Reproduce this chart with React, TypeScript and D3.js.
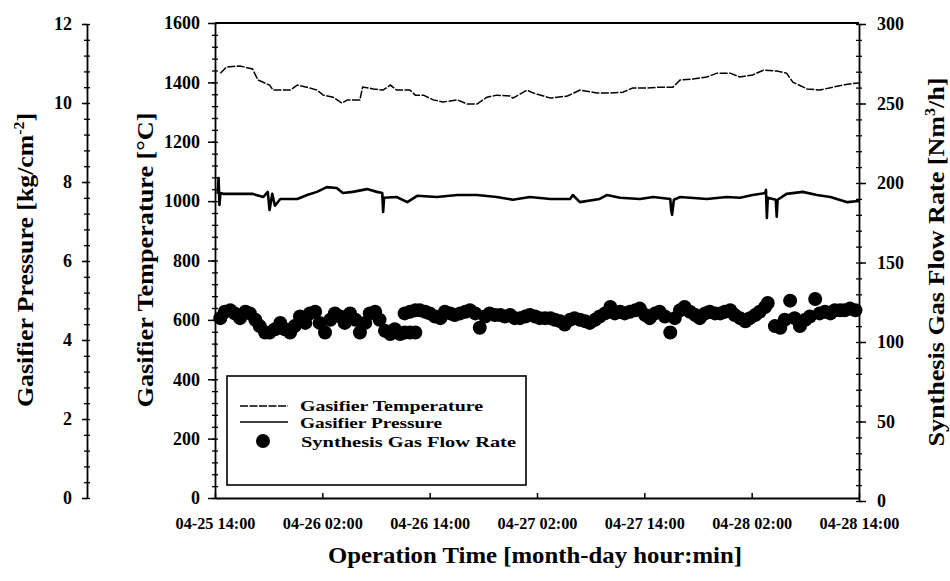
import React, { useEffect, useRef } from "react";
import * as d3 from "d3";

// x axis tick labels (month-day hour:min), 12 h apart
const tickLabels = ["04-25 14:00", "04-26 02:00", "04-26 14:00", "04-27 02:00", "04-27 14:00", "04-28 02:00", "04-28 14:00"];

// gasifier temperature, hours after 04-25 14:00 / deg C
const tempHours = [0.6, 1.3, 2.8, 4.2, 4.8, 6.1, 6.5, 8.4, 9.2, 10.6, 11.4, 12.1, 13.2, 14.2, 14.8, 16.2, 16.5, 17.7, 18.8, 19.6, 20.3, 21.8, 22.4, 23.3, 24.4, 25.5, 27.1, 28.2, 29.3, 30.4, 31.5, 33.0, 33.3, 34.9, 35.6, 37.5, 39.4, 40.8, 42.7, 44.2, 45.6, 46.7, 48.3, 49.8, 51.2, 52.0, 53.4, 55.0, 56.1, 57.6, 58.7, 60.1, 61.3, 62.8, 63.9, 64.6, 66.2, 67.6, 69.1, 70.7, 72.0];
const tempValues = [1431, 1452, 1455, 1445, 1408, 1391, 1374, 1374, 1391, 1381, 1374, 1357, 1350, 1330, 1341, 1341, 1384, 1378, 1374, 1391, 1374, 1374, 1357, 1357, 1341, 1334, 1341, 1327, 1327, 1350, 1357, 1354, 1347, 1374, 1364, 1347, 1354, 1374, 1364, 1364, 1367, 1381, 1381, 1384, 1384, 1408, 1411, 1418, 1431, 1431, 1418, 1425, 1441, 1438, 1431, 1401, 1378, 1374, 1384, 1394, 1398];

// gasifier pressure, hours / kg/cm2
const pressHours = [0.3, 0.4, 0.5, 0.6, 0.9, 4.2, 5.4, 5.9, 6.1, 6.4, 6.7, 7.3, 9.2, 10.3, 11.4, 12.5, 13.6, 14.3, 15.4, 17.0, 18.1, 18.7, 18.8, 18.9, 20.3, 21.5, 22.6, 24.8, 27.1, 29.3, 31.5, 33.3, 35.2, 37.5, 39.7, 40.0, 40.8, 43.0, 43.8, 45.3, 47.5, 49.0, 50.9, 51.0, 51.1, 51.3, 52.0, 55.0, 57.2, 58.7, 60.1, 61.5, 61.6, 61.7, 61.8, 62.7, 62.8, 62.9, 63.9, 65.7, 67.3, 68.8, 70.7, 72.0];
const pressValues = [7.7, 8.1, 7.42, 7.72, 7.7, 7.7, 7.62, 7.75, 7.29, 7.7, 7.4, 7.57, 7.57, 7.67, 7.75, 7.87, 7.85, 7.72, 7.75, 7.82, 7.75, 7.72, 7.24, 7.6, 7.62, 7.49, 7.65, 7.62, 7.67, 7.67, 7.62, 7.55, 7.62, 7.57, 7.57, 7.67, 7.49, 7.57, 7.67, 7.6, 7.57, 7.62, 7.57, 7.3, 7.17, 7.55, 7.62, 7.57, 7.62, 7.6, 7.67, 7.72, 7.8, 7.09, 7.6, 7.55, 7.12, 7.55, 7.7, 7.75, 7.67, 7.62, 7.49, 7.52];

// synthesis gas flow rate, hours / Nm3/h
const flowHours = [0.6, 1.1, 1.7, 2.2, 2.8, 3.4, 3.9, 4.5, 5.0, 5.6, 6.1, 6.7, 7.3, 7.8, 8.4, 8.9, 9.5, 10.1, 10.6, 11.2, 11.7, 12.3, 12.9, 13.4, 14.0, 14.5, 15.1, 15.7, 16.2, 16.8, 17.3, 17.9, 18.4, 19.0, 19.6, 20.1, 20.7, 21.2, 21.8, 22.4, 21.2, 21.8, 22.4, 22.9, 23.5, 24.0, 24.6, 25.2, 25.7, 26.3, 26.8, 27.4, 28.0, 28.5, 29.1, 29.6, 30.2, 30.7, 31.3, 31.9, 32.4, 33.0, 33.5, 34.1, 34.7, 35.2, 35.8, 36.3, 36.9, 37.5, 38.0, 38.6, 39.1, 39.7, 40.2, 40.8, 41.4, 41.9, 42.5, 43.0, 43.6, 44.2, 44.7, 45.3, 45.8, 46.4, 47.0, 47.5, 48.1, 48.6, 49.2, 49.7, 50.3, 50.9, 51.4, 52.0, 52.5, 53.1, 53.7, 54.2, 54.8, 55.3, 55.9, 56.5, 57.0, 57.6, 58.1, 58.7, 59.3, 59.8, 60.4, 60.9, 61.5, 61.8, 62.6, 63.2, 63.7, 64.3, 64.8, 65.4, 66.0, 66.5, 67.1, 67.6, 68.2, 68.8, 69.3, 69.9, 70.4, 71.0, 71.6];
const flowValues = [115, 119, 120, 118, 115, 119, 118, 114, 110, 106, 106, 108, 112, 108, 106, 110, 116, 112, 118, 119, 112, 106, 114, 118, 116, 112, 118, 114, 106, 112, 118, 119, 114, 107, 105, 108, 105, 106, 106, 106, 118, 119, 120, 120, 119, 118, 116, 115, 119, 118, 117, 118, 119, 120, 118, 109, 116, 118, 117, 117, 116, 117, 115, 115, 116, 117, 116, 115, 115, 115, 114, 113, 111, 114, 115, 114, 113, 112, 114, 116, 118, 122, 118, 119, 118, 119, 120, 121, 117, 115, 118, 119, 116, 106, 115, 120, 122, 119, 117, 115, 118, 119, 118, 118, 119, 120, 117, 115, 113, 115, 117, 119, 122, 124.5, 110, 109, 114, 126, 115, 110, 114, 116, 127, 118, 119, 118, 120, 120, 120, 121, 120];

const tempTicks = [0, 200, 400, 600, 800, 1000, 1200, 1400, 1600];
const pressTicks = [0, 2, 4, 6, 8, 10, 12];
const flowTicks = [0, 50, 100, 150, 200, 250, 300];

const FONT = "'Liberation Serif', 'Times New Roman', serif";

function draw(ref: SVGSVGElement) {
	const width = 950;
	const height = 581;
	const svg = d3.select(ref).attr("width", width).attr("height", height);
	svg.selectAll("*").remove();
	svg.append("rect").attr("width", width).attr("height", height).attr("fill", "white");

	const parse = d3.timeParse("%m-%d %H:%M");
	const tickDates = tickLabels.map((s) => parse(s) as Date);
	const start = tickDates[0];
	const at = (h: number) => d3.timeMinute.offset(start, Math.round(h * 60));

	const x = d3.scaleTime().domain([start, tickDates[tickDates.length - 1]]).range([215, 859]);
	const yT = d3.scaleLinear().domain([0, 1600]).range([498, 23]);
	const yP = d3.scaleLinear().domain([0, 12]).range([498, 24]);
	const yF = d3.scaleLinear().domain([0, 300]).range([501, 24]);
	const fmt = d3.format("d");

	const styleAxis = (g: d3.Selection<SVGGElement, unknown, null, undefined>, size: number) => {
		g.attr("font-family", FONT).attr("font-size", size).attr("font-weight", "bold");
		g.selectAll("path").attr("stroke-width", 1.8);
		g.selectAll("line").attr("stroke-width", 1.5);
	};

	// top frame
	svg.append("line").attr("x1", 215).attr("x2", 859).attr("y1", 23).attr("y2", 23).attr("stroke", "black").attr("stroke-width", 1.8);

	// temperature axis (middle)
	const gT = svg.append("g").attr("transform", "translate(215,0)")
		.call(d3.axisLeft(yT).tickValues(tempTicks).tickFormat((d) => fmt(d as number)).tickSize(7).tickSizeOuter(0).tickPadding(8));
	styleAxis(gT, 18);
	svg.append("g").attr("transform", "translate(218,0)")
		.call(d3.axisLeft(yT).tickValues(d3.range(0, 1601, 40)).tickSize(6).tickFormat(() => ""))
		.call((g) => g.select(".domain").remove())
		.selectAll("line").attr("stroke-width", 1.3);

	// pressure axis (far left)
	const gP = svg.append("g").attr("transform", "translate(87,0)")
		.call(d3.axisLeft(yP).tickValues(pressTicks).tickFormat((d) => fmt(d as number)).tickSize(5).tickSizeOuter(0).tickPadding(10));
	styleAxis(gP, 18);
	svg.append("g").attr("transform", "translate(90,0)")
		.call(d3.axisLeft(yP).tickValues(d3.range(0, 12.01, 0.4)).tickSize(6).tickFormat(() => ""))
		.call((g) => g.select(".domain").remove())
		.selectAll("line").attr("stroke-width", 1.3);

	// flow axis (right)
	const gF = svg.append("g").attr("transform", "translate(859,0)")
		.call(d3.axisRight(yF).tickValues(flowTicks).tickFormat((d) => fmt(d as number)).tickSize(7).tickSizeOuter(0).tickPadding(11));
	styleAxis(gF, 18);
	svg.append("g").attr("transform", "translate(856,0)")
		.call(d3.axisRight(yF).tickValues(d3.range(0, 301, 10)).tickSize(6).tickFormat(() => ""))
		.call((g) => g.select(".domain").remove())
		.selectAll("line").attr("stroke-width", 1.3);

	// time axis
	const gX = svg.append("g").attr("transform", "translate(0,498)")
		.call(d3.axisBottom(x).tickValues(tickDates).tickSize(-5).tickSizeOuter(0).tickPadding(20)
			.tickFormat((d) => d3.timeFormat("%m-%d %H:%M")(d as Date)));
	styleAxis(gX, 16);
	gX.selectAll("text").attr("textLength", 80).attr("lengthAdjust", "spacingAndGlyphs");

	// temperature line
	const tLine = d3.line<number>().x((_, i) => x(at(tempHours[i]))).y((d) => yT(d));
	svg.append("path").attr("d", tLine(tempValues)).attr("fill", "none").attr("stroke", "black")
		.attr("stroke-width", 1.5).attr("stroke-dasharray", "8 1.5");

	// pressure line
	const pLine = d3.line<number>().x((_, i) => x(at(pressHours[i]))).y((d) => yP(d));
	svg.append("path").attr("d", pLine(pressValues)).attr("fill", "none").attr("stroke", "black")
		.attr("stroke-width", 2.6).attr("stroke-linejoin", "round");

	// flow rate dots
	svg.append("g").selectAll("circle").data(flowValues).enter().append("circle")
		.attr("cx", (_, i) => x(at(flowHours[i])))
		.attr("cy", (d) => yF(d))
		.attr("r", 7)
		.attr("fill", "black");

	// legend
	const lg = svg.append("g").attr("font-family", FONT).attr("font-size", 15).attr("font-weight", "bold");
	lg.append("rect").attr("x", 227).attr("y", 376).attr("width", 299).attr("height", 109)
		.attr("fill", "white").attr("stroke", "black").attr("stroke-width", 1.6);
	lg.append("line").attr("x1", 240).attr("x2", 288).attr("y1", 406).attr("y2", 406)
		.attr("stroke", "black").attr("stroke-width", 1.3).attr("stroke-dasharray", "8 1.5");
	lg.append("line").attr("x1", 240).attr("x2", 288).attr("y1", 422).attr("y2", 422)
		.attr("stroke", "black").attr("stroke-width", 1.3);
	lg.append("circle").attr("cx", 263).attr("cy", 441).attr("r", 7).attr("fill", "black");
	lg.append("text").attr("x", 300).attr("y", 411).attr("textLength", 183).attr("lengthAdjust", "spacingAndGlyphs").text("Gasifier Temperature");
	lg.append("text").attr("x", 300).attr("y", 428).attr("textLength", 142).attr("lengthAdjust", "spacingAndGlyphs").text("Gasifier Pressure");
	lg.append("text").attr("x", 301).attr("y", 447).attr("textLength", 215).attr("lengthAdjust", "spacingAndGlyphs").text("Synthesis Gas Flow Rate");

	// axis titles
	const title = (tx: number, ty: number, rot: number, len: number) =>
		svg.append("text").attr("transform", `translate(${tx},${ty}) rotate(${rot})`)
			.attr("text-anchor", "middle").attr("font-family", FONT).attr("font-size", 23)
			.attr("font-weight", "bold").attr("textLength", len).attr("lengthAdjust", "spacingAndGlyphs");

	const tp = title(33, 260, -90, 294);
	tp.append("tspan").text("Gasifier Pressure [kg/cm");
	tp.append("tspan").attr("font-size", 14).attr("dy", -9).text("-2");
	tp.append("tspan").attr("dy", 9).text("]");

	title(153, 260, -90, 295).text("Gasifier Temperature [°C]");

	const tf = title(944, 262, -90, 369);
	tf.append("tspan").text("Synthesis Gas Flow Rate [Nm");
	tf.append("tspan").attr("font-size", 14).attr("dy", -9).text("3");
	tf.append("tspan").attr("dy", 9).text("/h]");

	title(535, 563, 0, 414).text("Operation Time [month-day hour:min]");
}

export default function App() {
	const ref = useRef<SVGSVGElement>(null);
	useEffect(() => {
		if (!ref.current) return;
		draw(ref.current);
	}, []);
	return <svg ref={ref} style={{ position: "absolute", left: 0, top: 0 }} />;
}
